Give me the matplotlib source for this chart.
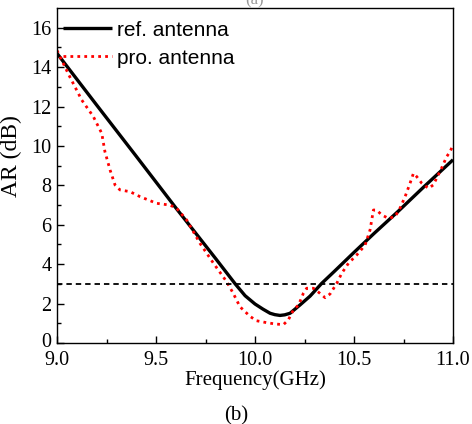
import matplotlib
matplotlib.use("Agg")
import matplotlib.pyplot as plt
import matplotlib.transforms as mtransforms
import numpy as np

ref_freq = [9.0, 9.2, 9.4, 9.6, 9.8, 9.9, 9.95, 10.0, 10.04, 10.076, 10.1, 10.126, 10.15, 10.177, 10.227, 10.278, 10.337, 10.4, 10.5, 10.6, 10.73, 10.85, 11.0]
ref_ar = [14.7, 12.08, 9.48, 6.86, 4.3, 3.0, 2.4, 1.98, 1.72, 1.51, 1.44, 1.4, 1.43, 1.51, 1.93, 2.38, 3.03, 3.63, 4.6, 5.55, 6.75, 7.9, 9.3]

pro_freq = [9.0, 9.06, 9.125, 9.183, 9.226, 9.242, 9.268, 9.293, 9.318, 9.369, 9.419, 9.503, 9.57, 9.604, 9.655, 9.722, 9.79, 9.857, 9.89, 9.924, 9.975, 10.008, 10.06, 10.1, 10.143, 10.168, 10.194, 10.22, 10.244, 10.261, 10.295, 10.328, 10.354, 10.379, 10.413, 10.438, 10.472, 10.514, 10.556, 10.581, 10.598, 10.614, 10.64, 10.673, 10.707, 10.732, 10.758, 10.783, 10.8, 10.817, 10.842, 10.876, 10.9, 10.917, 10.942, 10.968, 10.985, 11.0]
pro_ar = [14.85, 13.6, 12.33, 11.5, 10.64, 9.71, 8.78, 8.02, 7.77, 7.68, 7.43, 7.09, 7.0, 6.84, 6.24, 5.06, 4.05, 3.11, 2.52, 1.84, 1.35, 1.13, 1.03, 0.97, 0.93, 1.17, 1.68, 1.93, 2.52, 2.78, 2.78, 2.52, 2.3, 2.49, 3.03, 3.54, 4.05, 4.47, 4.97, 5.74, 6.75, 6.75, 6.5, 6.33, 6.41, 6.84, 7.43, 8.11, 8.61, 8.44, 8.11, 7.85, 8.02, 8.36, 8.87, 9.46, 9.71, 10.05]

threshold = 3.0
series_labels = ["ref. antenna", "pro. antenna"]
xticks = [9.0, 9.5, 10.0, 10.5, 11.0]
yticks = [0, 2, 4, 6, 8, 10, 12, 14, 16]

serif = ["Liberation Serif", "DejaVu Serif"]
sans = ["Liberation Sans", "DejaVu Sans"]

fig = plt.figure(figsize=(4.72, 4.24), dpi=100)
ax = fig.add_axes([0.1208, 0.191, 0.839, 0.790])

l1, = ax.plot(ref_freq, ref_ar, color="black", lw=2.4, solid_capstyle="butt")
l2, = ax.plot(pro_freq, pro_ar, color="red", lw=2.0, linestyle=(0, (1, 1.5)))
ax.axhline(threshold, color="black", lw=1.3, linestyle=(0, (3, 2.2)))

ax.set_xlim(9.0, 11.0)
ax.set_ylim(0, 17)
ax.set_xticks(xticks)
ax.set_xticklabels([f"{t:.1f}" for t in xticks], fontfamily=serif, fontsize=14.5)
ax.set_yticks(yticks)
ax.set_yticklabels([str(t) for t in yticks], fontfamily=serif, fontsize=14.5)
ax.set_xticks(np.arange(9.25, 11.0, 0.5), minor=True)
ax.set_yticks(np.arange(1, 17, 2), minor=True)
ax.tick_params(which="both", direction="in", top=False, right=False)
ax.tick_params(which="major", length=5, width=1)
ax.tick_params(axis="x", which="major", pad=6)
ax.tick_params(axis="y", which="major", pad=4)
ax.tick_params(which="minor", length=3, width=1)
for s in ax.spines.values():
    s.set_linewidth(1.0)

# nudge the "0" label up slightly, as in the reference
zero_lbl = ax.get_yticklabels()[0]
zero_lbl.set_transform(zero_lbl.get_transform() +
                       mtransforms.ScaledTranslation(0, 3 / 100, fig.dpi_scale_trans))

ax.set_xlabel("Frequency(GHz)", fontfamily=serif, fontsize=15)
ax.xaxis.set_label_coords(0.5, -0.08)
ax.set_ylabel("AR (dB)", fontfamily=serif, fontsize=17)
ax.yaxis.set_label_coords(-0.088, 0.558)

leg = ax.legend([l1, l2], series_labels, loc="upper left", frameon=False,
                bbox_to_anchor=(-0.008, 0.99),
                prop={"family": sans, "size": 15}, handlelength=2.35,
                handletextpad=0.25, borderaxespad=0.0, labelspacing=0.42,
                borderpad=0.45)

fig.text(0.5, 0.02, "(b)", ha="center", va="center", fontfamily=serif, fontsize=15)
fig.text(0.54, 1.0, "(a)", ha="center", va="center", fontfamily=serif, fontsize=12, color="#999999")

fig.savefig("out.png", dpi=100)
